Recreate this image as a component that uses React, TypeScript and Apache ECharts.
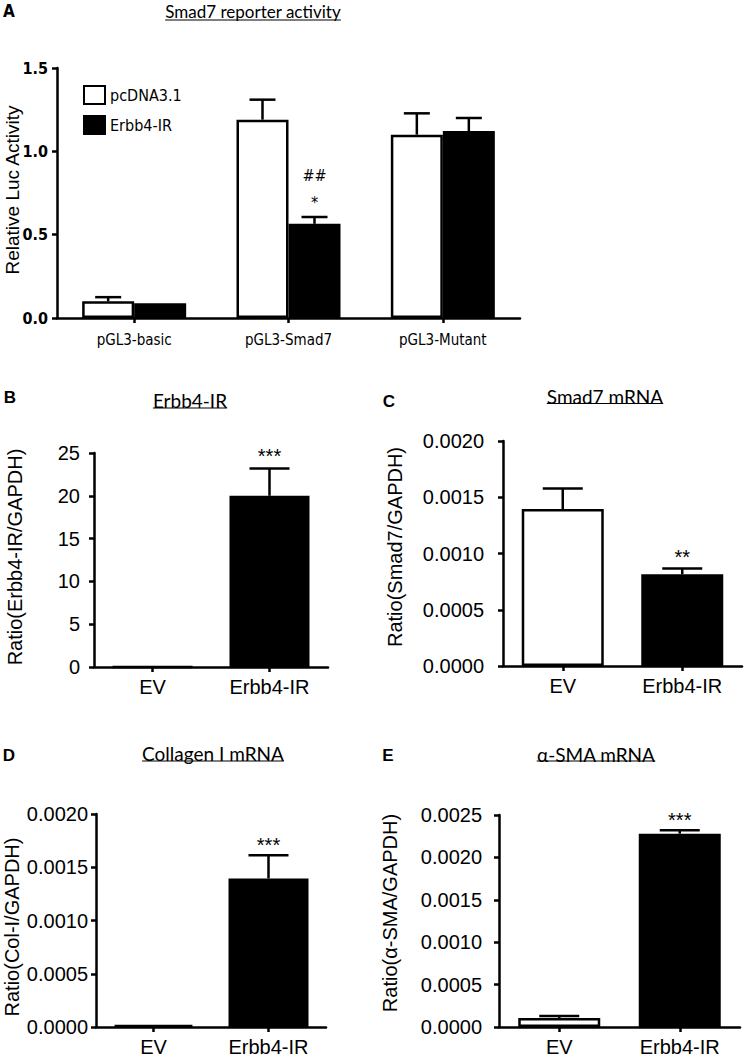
import React, { useEffect, useRef } from "react";
import * as echarts from "echarts";

// ---------- Panel A data ----------
const aCategories = ["pGL3-basic", "pGL3-Smad7", "pGL3-Mutant"];
const aSeriesNames = ["pcDNA3.1", "Erbb4-IR"];
const aPcdna = [0.1, 1.19, 1.1];
const aPcdnaErrTop = [0.125, 1.31, 1.228];
const aErbb4 = [0.088, 0.565, 1.122];
const aErbb4ErrTop = [0.09, 0.606, 1.2];
const aErbb4Marks = [[], ["*", "##"], []];

// ---------- Panels B-E data ----------
const evCategories = ["EV", "Erbb4-IR"];

const bValues = [0, 20.0];
const bErrTop = [0, 23.2];
const bMarks = [[], ["***"]];

const cValues = [0.001396, 0.000815];
const cErrTop = [0.001577, 0.000866];
const cMarks = [[], ["**"]];

const dValues = [0.00002, 0.001395];
const dErrTop = [0.00002, 0.001613];
const dMarks = [[], ["***"]];

const eValues = [0.000105, 0.00228];
const eErrTop = [0.000129, 0.00232];
const eMarks = [[], ["***"]];

const NARROW = "'DejaVu Sans Condensed', 'Liberation Sans Narrow', 'Arial Narrow', sans-serif";
const ARIAL = "'Liberation Sans', Arial, sans-serif";
const CAL = "Lato, 'Open Sans', sans-serif";

function measure(text: string, font: string): number {
  const ctx = document.createElement("canvas").getContext("2d");
  if (!ctx) return text.length * 8;
  ctx.font = font;
  return ctx.measureText(text).width;
}

function axisLineStyle() {
  return { show: true, lineStyle: { color: "#000", width: 2.5 } };
}
function axisTickStyle(align = false) {
  return { show: true, length: 5, alignWithLabel: align, lineStyle: { color: "#000", width: 2.5 } };
}

function errorSeries(
  gridIdx: number,
  values: number[],
  errTops: number[],
  offsetPx: number,
  capHalf: number,
  marks: string[][],
  markFont: string,
  markSize: number,
  markGap: number,
  markStep: number
) {
  return {
    type: "custom",
    xAxisIndex: gridIdx,
    yAxisIndex: gridIdx,
    clip: false,
    z: 5,
    data: values.map((v, i) => [i, v, errTops[i]]),
    renderItem: (params: any, api: any) => {
      const i = api.value(0);
      const top = api.coord([i, api.value(1)]);
      const err = api.coord([i, api.value(2)]);
      const x = top[0] + offsetPx;
      const children: any[] = [];
      if (err[1] < top[1] - 0.5) {
        children.push({
          type: "line",
          shape: { x1: x, y1: top[1], x2: x, y2: err[1] },
          style: { stroke: "#000", lineWidth: 2.5 },
        });
        children.push({
          type: "line",
          shape: { x1: x - capHalf, y1: err[1], x2: x + capHalf, y2: err[1] },
          style: { stroke: "#000", lineWidth: 2.5 },
        });
      }
      const m = marks[params.dataIndex] || [];
      m.forEach((t, k) => {
        children.push({
          type: "text",
          style: {
            x: x,
            y: err[1] - markGap - k * markStep,
            text: t,
            fill: "#000",
            font: `${markSize}px ${markFont}`,
            align: "center",
            verticalAlign: "middle",
          },
        });
      });
      return { type: "group", children };
    },
  };
}

export default function App() {
  const ref = useRef<HTMLDivElement>(null);

  useEffect(() => {
    if (!ref.current) return;
    const chart = echarts.init(ref.current, undefined, { renderer: "svg" });

    const grids = [
      { left: 57, top: 68, width: 463, height: 250 },
      { left: 94, top: 453, width: 234, height: 214 },
      { left: 503, top: 441, width: 239, height: 225 },
      { left: 96, top: 814, width: 230, height: 214 },
      { left: 499, top: 815, width: 241, height: 213 },
    ];

    const yCfg = [
      { max: 1.5, interval: 0.5, fmt: (v: number) => v.toFixed(1), font: NARROW, size: 16, bold: true, margin: 9 },
      { max: 25, interval: 5, fmt: (v: number) => String(v), font: ARIAL, size: 20, bold: false, margin: 14 },
      { max: 0.002, interval: 0.0005, fmt: (v: number) => v.toFixed(4), font: ARIAL, size: 20, bold: false, margin: 19 },
      { max: 0.002, interval: 0.0005, fmt: (v: number) => v.toFixed(4), font: ARIAL, size: 20, bold: false, margin: 8 },
      { max: 0.0025, interval: 0.0005, fmt: (v: number) => v.toFixed(4), font: ARIAL, size: 20, bold: false, margin: 17 },
    ];

    const xAxes = grids.map((_, gi) => ({
      type: "category",
      gridIndex: gi,
      data: gi === 0 ? aCategories : evCategories,
      boundaryGap: true,
      axisLine: axisLineStyle(),
      axisTick: axisTickStyle(true),
      axisLabel: {
        color: "#000",
        fontFamily: gi === 0 ? NARROW : ARIAL,
        fontSize: gi === 0 ? 15 : 20,
        margin: gi === 0 ? 14 : 10,
      },
      splitLine: { show: false },
    }));

    const yAxes = yCfg.map((c, gi) => ({
      type: "value",
      gridIndex: gi,
      min: 0,
      max: c.max,
      interval: c.interval,
      axisLine: axisLineStyle(),
      axisTick: axisTickStyle(),
      splitLine: { show: false },
      axisLabel: {
        color: "#000",
        fontFamily: c.font,
        fontSize: c.size,
        fontWeight: c.bold ? "bold" : "normal",
        margin: c.margin,
        formatter: c.fmt,
      },
    }));

    const barStyle = (fill: string) => ({ color: fill, borderColor: "#000", borderWidth: 2.5 });

    const twoBar = (gi: number, vals: number[], w: number) => ({
      type: "bar",
      xAxisIndex: gi,
      yAxisIndex: gi,
      barWidth: w,
      data: vals.map((v, i) => ({ value: v, itemStyle: barStyle(i === 0 ? "#fff" : "#000") })),
    });

    const series: any[] = [
      {
        name: aSeriesNames[0],
        type: "bar",
        xAxisIndex: 0,
        yAxisIndex: 0,
        barWidth: 52,
        barGap: "0%",
        itemStyle: barStyle("#fff"),
        data: aPcdna,
      },
      {
        name: aSeriesNames[1],
        type: "bar",
        xAxisIndex: 0,
        yAxisIndex: 0,
        barWidth: 52,
        barGap: "0%",
        itemStyle: barStyle("#000"),
        data: aErbb4,
      },
      errorSeries(0, aPcdna, aPcdnaErrTop, -26, 13, [[], [], []], NARROW, 16, 16, 27),
      errorSeries(0, aErbb4, aErbb4ErrTop, 26, 13, aErbb4Marks, NARROW, 16, 15, 27),
      twoBar(1, bValues, 80),
      errorSeries(1, bValues, bErrTop, 0, 20, bMarks, ARIAL, 20, 12, 20),
      twoBar(2, cValues, 82),
      errorSeries(2, cValues, cErrTop, 0, 20, cMarks, ARIAL, 20, 12, 20),
      twoBar(3, dValues, 80),
      errorSeries(3, dValues, dErrTop, 0, 20, dMarks, ARIAL, 20, 10, 20),
      twoBar(4, eValues, 82),
      errorSeries(4, eValues, eErrTop, 0, 20, eMarks, ARIAL, 20, 10, 20),
    ];

    const titles = [
      { text: "Smad7 reporter activity", cx: 253, cy: 11, uy: 20, size: 17, font: CAL },
      { text: "Erbb4-IR", cx: 190, cy: 400, uy: 408, size: 19, font: CAL },
      { text: "Smad7 mRNA", cx: 605, cy: 396, uy: 403.5, size: 19, font: CAL },
      { text: "Collagen I mRNA", cx: 213, cy: 753, uy: 761, size: 19, font: CAL },
      { text: "\u03b1-SMA mRNA", cx: 596, cy: 754, uy: 761, size: 19, font: CAL },
    ];
    const letters = [
      { text: "A", x: 9, y: 11, size: 17, font: NARROW },
      { text: "B", x: 10, y: 397, size: 17, font: ARIAL },
      { text: "C", x: 389, y: 401, size: 17, font: ARIAL },
      { text: "D", x: 9, y: 755, size: 17, font: ARIAL },
      { text: "E", x: 388, y: 755, size: 17, font: ARIAL },
    ];
    const yNames = [
      { text: "Relative Luc Activity", x: 12, y: 190, size: 19 },
      { text: "Ratio(Erbb4-IR/GAPDH)", x: 15, y: 557, size: 20 },
      { text: "Ratio(Smad7/GAPDH)", x: 395, y: 547, size: 20 },
      { text: "Ratio(Col-I/GAPDH)", x: 12, y: 927, size: 20 },
      { text: "Ratio(\u03b1-SMA/GAPDH)", x: 390, y: 913, size: 20 },
    ];

    const graphics: any[] = [];
    titles.forEach((t) => {
      const w = measure(t.text, `${t.size}px ${t.font}`);
      graphics.push({
        type: "text",
        x: t.cx,
        y: t.cy,
        style: { text: t.text, font: `${t.size}px ${t.font}`, fill: "#000", align: "center", verticalAlign: "middle" },
      });
      graphics.push({
        type: "line",
        shape: { x1: t.cx - w / 2, y1: t.uy, x2: t.cx + w / 2, y2: t.uy },
        style: { stroke: "#000", lineWidth: 1.2 },
      });
    });
    letters.forEach((l) => {
      graphics.push({
        type: "text",
        x: l.x,
        y: l.y,
        style: { text: l.text, font: `bold ${l.size}px ${l.font}`, fill: "#000", align: "center", verticalAlign: "middle" },
      });
    });
    yNames.forEach((n) => {
      graphics.push({
        type: "text",
        x: n.x,
        y: n.y,
        rotation: Math.PI / 2,
        style: { text: n.text, font: `${n.size}px ${ARIAL}`, fill: "#000", align: "center", verticalAlign: "middle" },
      });
    });

    chart.setOption({
      animation: false,
      backgroundColor: "#fff",
      grid: grids.map((g) => ({ ...g, containLabel: false })),
      xAxis: xAxes,
      yAxis: yAxes,
      legend: {
        data: aSeriesNames,
        orient: "vertical",
        left: 78,
        top: 80,
        itemWidth: 21,
        itemHeight: 18,
        itemGap: 10,
        icon: "rect",
        textStyle: { color: "#000", fontFamily: NARROW, fontSize: 16 },
      },
      graphic: graphics,
      series,
    });

    return () => chart.dispose();
  }, []);

  return (
    <div
      ref={ref}
      style={{ position: "absolute", left: 0, top: 0, width: 747, height: 1057, background: "#fff" }}
    />
  );
}
